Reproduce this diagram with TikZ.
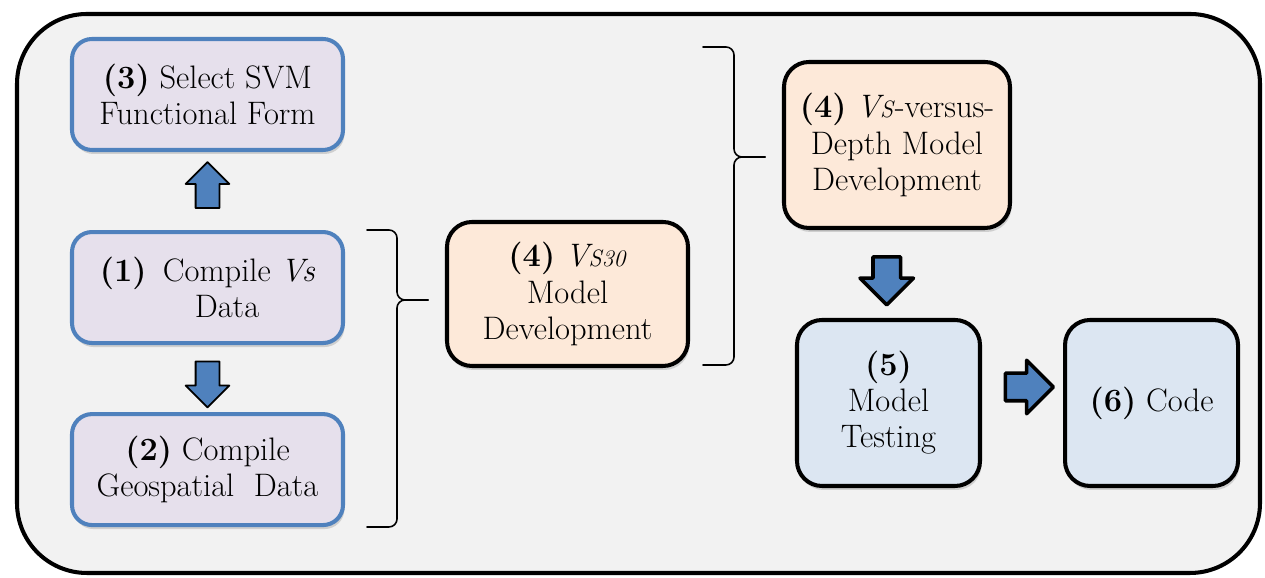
\documentclass[tikz,border=0pt]{standalone}
\usepackage{fontspec}
\usetikzlibrary{positioning, calc, shapes.arrows, shadows}
\definecolor{panel}{HTML}{F2F2F2}
\definecolor{sblue}{HTML}{4F81BD}
\definecolor{lilac}{HTML}{E6E0EC}
\definecolor{peach}{HTML}{FDE9D9}
\definecolor{pale}{HTML}{DCE6F2}
\tikzset{el/.style={line cap=round, line join=round}}
\newcommand{\vsub}[1]{\textit{V{\fontsize{13.5}{15}\selectfont #1}}}

\begin{document}
\begin{tikzpicture}[el,
     box/.style={rounded corners=0.4cm, line width=2.3pt, align=center,
        font=\fontsize{18.5}{20.5}\selectfont,
        drop shadow={shadow xshift=0.03cm, shadow yshift=-0.08cm, opacity=0.3}},
     data/.style={box, draw=sblue, fill=lilac, minimum width=5.42cm, minimum height=2.22cm},
     dev/.style={box, draw=black, fill=peach, rounded corners=0.5cm},
     test/.style={box, draw=black, fill=pale, rounded corners=0.5cm, minimum height=3.32cm},
     blk/.style={single arrow, draw=black, fill=sblue, inner sep=0.22cm, line width=1pt,
        single arrow head extend=0.2cm, minimum height=0.92cm},
     bigblk/.style={blk, line width=2pt, inner sep=0.24cm, single arrow head extend=0.26cm,
        minimum height=0.96cm},
     brc/.style={line width=0.9pt, rounded corners=0.16cm}]
  \useasboundingbox (0,0) rectangle (25.3,11.56);
  \draw[line width=2.3pt, fill=panel, rounded corners=1.4cm] (0.34,0.1) rectangle (25.2,11.28);

  % left column
  \node[data] (s3) at (4.15,9.67) {\textbf{(3)} Select SVM\\Functional Form};
  \node[data, below=1.56cm of s3] (s1) {\textbf{(1)}\enspace Compile \textit{Vs}\\\hspace*{1.2em}Data};
  \node[data, below=1.34cm of s1] (s2) {\textbf{(2)} Compile\\Geospatial\ \ Data};

  % model development and testing
  \node[dev, minimum width=4.82cm, minimum height=2.88cm] (v30) at (11.35,5.68)
     {\textbf{(4)} \vsub{S30}\\Model\\Development};
  \node[dev, minimum width=4.52cm, minimum height=3.32cm] (vd) at (17.94,8.66)
     {\textbf{(4)} \vsub{S}-versus-\\Depth Model\\Development};
  \node[test, minimum width=3.66cm] (mt) at (17.77,3.5) {\textbf{(5)}\\Model\\Testing};
  \node[test, minimum width=3.46cm, right=1.62cm of mt] (cd) {\raisebox{0.12cm}{\textbf{(6)} Code}};

  % block arrows
  \node[blk, rotate=90] (a13) at ($(s1.north)!0.5!(s3.south)$) {};
  \node[blk, rotate=-90] (a12) at ($(s1.south)!0.5!(s2.north)$) {};
  \node[bigblk, rotate=-90] (a45) at ($(vd.south)!0.5!(mt.north)+(-0.12,0)$) {};
  \node[bigblk] (a56) at ($(mt.east)!0.5!(cd.west)+(0,0.32)$) {};

  % braces
  \draw[brc] (7.34,6.96) -- (7.94,6.96) -- (7.94,5.56) -- (8.56,5.56);
  \draw[brc] (7.34,1.02) -- (7.94,1.02) -- (7.94,5.56) -- (8.56,5.56);
  \draw[brc] (14.06,10.62) -- (14.68,10.62) -- (14.68,8.42) -- (15.30,8.42);
  \draw[brc] (14.06,4.26) -- (14.68,4.26) -- (14.68,8.42) -- (15.30,8.42);
\end{tikzpicture}
\end{document}
